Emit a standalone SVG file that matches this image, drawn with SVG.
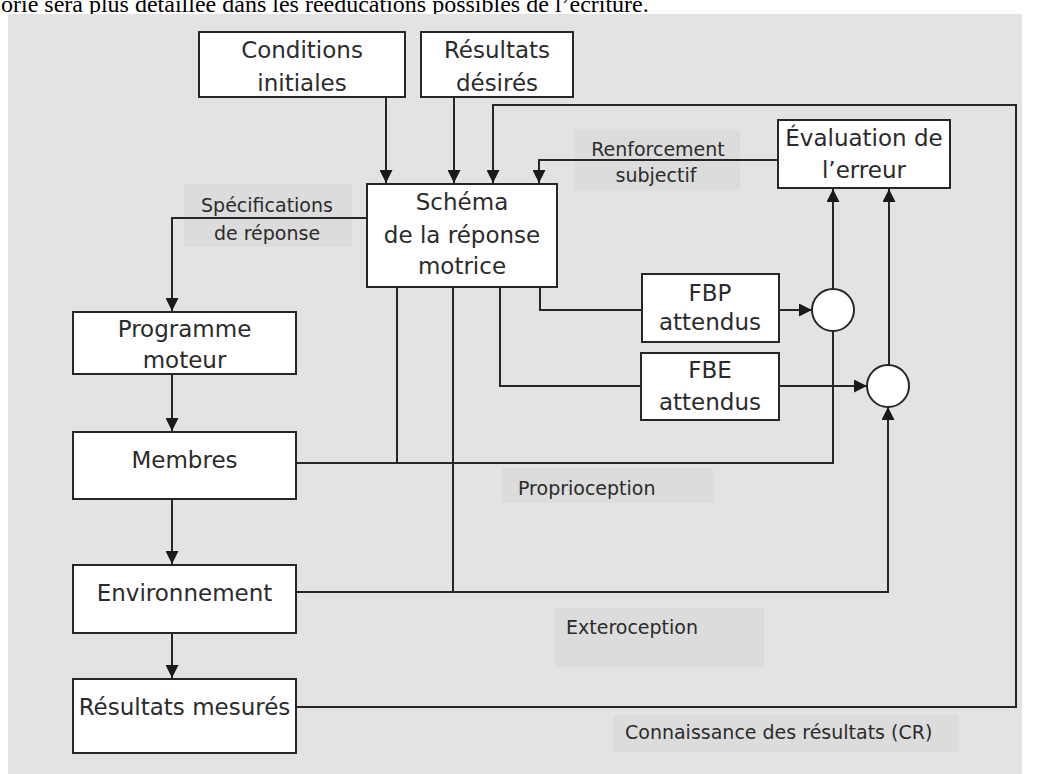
<svg xmlns="http://www.w3.org/2000/svg" width="1043" height="774" viewBox="0 0 1043 774">
<defs>
<style>
.box{fill:#ffffff;stroke:#262626;stroke-width:2}
.ln{fill:none;stroke:#262626;stroke-width:2}
.arr{marker-end:url(#ah)}
.t{font-family:"DejaVu Sans",Verdana,sans-serif;font-size:23px;fill:#2b2b2b;text-anchor:middle}
.lb{font-family:"DejaVu Sans",Verdana,sans-serif;font-size:19px;fill:#2b2b2b}
.lbg{fill:#dcdcdc}
.circ{fill:#ffffff;stroke:#262626;stroke-width:2}
</style>
<marker id="ah" viewBox="0 0 10 10" refX="10" refY="5" markerWidth="13" markerHeight="13" markerUnits="userSpaceOnUse" orient="auto">
<path d="M0,0 L10,5 L0,10 z" fill="#1a1a1a"/>
</marker>
</defs>
<rect x="0" y="0" width="1043" height="774" fill="#ffffff"/>
<text x="1" y="12" font-family="'Liberation Serif','Times New Roman',serif" font-size="24" fill="#000">orie sera plus détaillée dans les rééducations possibles de l’écriture.</text>
<rect x="8" y="14" width="1014" height="760" fill="#e3e3e3"/>

<g id="labels">
<rect class="lbg" x="184" y="184" width="168" height="63"/>
<text class="lb" x="267" y="212" text-anchor="middle">Spécifications</text>
<text class="lb" x="267" y="240" text-anchor="middle">de réponse</text>
<rect class="lbg" x="575" y="130" width="165" height="60"/>
<text class="lb" x="658" y="156" text-anchor="middle">Renforcement</text>
<text class="lb" x="656" y="182" text-anchor="middle">subjectif</text>
<rect class="lbg" x="502" y="468" width="211" height="35"/>
<text class="lb" x="518" y="495">Proprioception</text>
<rect class="lbg" x="554" y="608" width="210" height="59"/>
<text class="lb" x="566" y="634">Exteroception</text>
<rect class="lbg" x="613" y="715" width="346" height="37"/>
<text class="lb" x="625" y="739">Connaissance des résultats (CR)</text>
</g>

<g id="connectors">
<path class="ln arr" d="M386,97 V183"/>
<path class="ln arr" d="M454,97 V183"/>
<path class="ln arr" d="M296,707 H1016 V105 H493 V183"/>
<path class="ln arr" d="M778,160 H539 V183"/>
<path class="ln arr" d="M367,218 H172 V311"/>
<path class="ln arr" d="M172,374 V431"/>
<path class="ln arr" d="M172,499 V564"/>
<path class="ln arr" d="M172,633 V678"/>
<path class="ln" d="M397,287 V463"/>
<path class="ln" d="M453,287 V592"/>
<path class="ln" d="M500,287 V386 H641"/>
<path class="ln" d="M540,287 V310 H642"/>
<path class="ln" d="M296,463 H833 V331"/>
<path class="ln arr" d="M296,592 H888 V407"/>
<path class="ln arr" d="M779,310 H812"/>
<path class="ln arr" d="M779,386 H867"/>
<path class="ln arr" d="M833,289 V189"/>
<path class="ln arr" d="M889,365 V189"/>
</g>

<g id="n-conditions">
<rect class="box" x="199" y="32" width="206" height="65"/>
<text class="t" x="302" y="58">Conditions</text>
<text class="t" x="302" y="91">initiales</text>
</g>
<g id="n-resultats-desires">
<rect class="box" x="421" y="32" width="152" height="65"/>
<text class="t" x="497" y="58">Résultats</text>
<text class="t" x="497" y="91">désirés</text>
</g>
<g id="n-schema">
<rect class="box" x="367" y="184" width="190" height="103"/>
<text class="t" x="462" y="210">Schéma</text>
<text class="t" x="462" y="243">de la réponse</text>
<text class="t" x="462" y="274">motrice</text>
</g>
<g id="n-evaluation">
<rect class="box" x="778" y="120" width="172" height="68"/>
<text class="t" x="864" y="146">Évaluation de</text>
<text class="t" x="864" y="178">l’erreur</text>
</g>
<g id="n-fbp">
<rect class="box" x="642" y="274" width="137" height="68"/>
<text class="t" x="710" y="301">FBP</text>
<text class="t" x="710" y="330">attendus</text>
</g>
<g id="n-fbe">
<rect class="box" x="641" y="353" width="138" height="67"/>
<text class="t" x="710" y="378">FBE</text>
<text class="t" x="710" y="410">attendus</text>
</g>
<g id="n-comp1">
<circle class="circ" cx="833" cy="310" r="21"/>
</g>
<g id="n-comp2">
<circle class="circ" cx="888" cy="386" r="21"/>
</g>
<g id="n-programme">
<rect class="box" x="73" y="312" width="223" height="62"/>
<text class="t" x="184.5" y="337">Programme</text>
<text class="t" x="184.5" y="368">moteur</text>
</g>
<g id="n-membres">
<rect class="box" x="73" y="432" width="223" height="67"/>
<text class="t" x="184.5" y="468">Membres</text>
</g>
<g id="n-environnement">
<rect class="box" x="73" y="565" width="223" height="68"/>
<text class="t" x="184.5" y="601">Environnement</text>
</g>
<g id="n-resultats-mesures">
<rect class="box" x="73" y="679" width="223" height="74"/>
<text class="t" x="184.5" y="715">Résultats mesurés</text>
</g>
</svg>
